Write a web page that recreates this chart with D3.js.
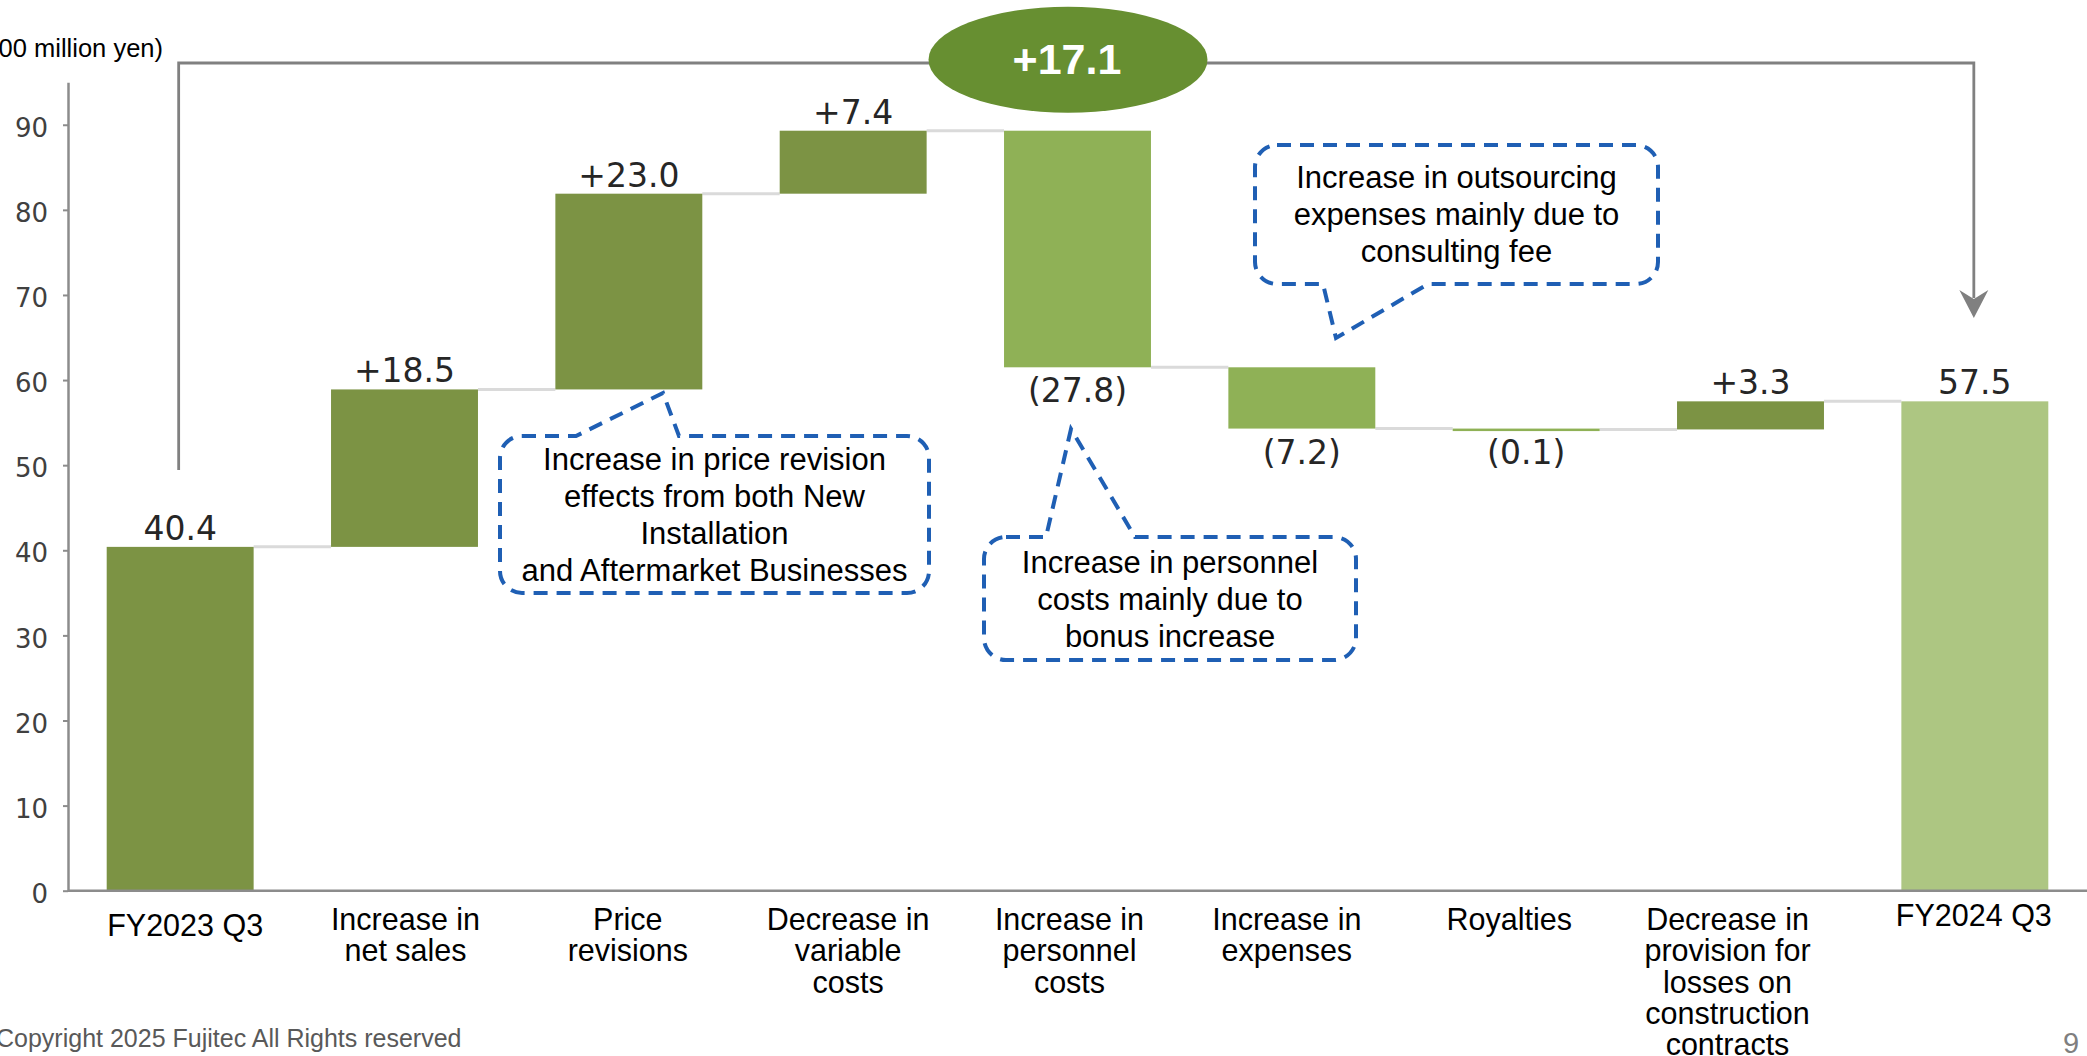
<!DOCTYPE html>
<html>
<head>
<meta charset="utf-8">
<script src="https://cdn.jsdelivr.net/npm/d3@7/dist/d3.min.js"></script>
<style>
  html, body { margin: 0; padding: 0; background: #ffffff; overflow: hidden; }
  svg { display: block; }
</style>
</head>
<body>
<div id="chart"></div>
<script>
// ---------------- DATA ----------------
const categories = [
  "FY2023 Q3",
  "Increase in\nnet sales",
  "Price\nrevisions",
  "Decrease in\nvariable\ncosts",
  "Increase in\npersonnel\ncosts",
  "Increase in\nexpenses",
  "Royalties",
  "Decrease in\nprovision for\nlosses on\nconstruction\ncontracts",
  "FY2024 Q3"
];
const values = [40.4, 18.5, 23.0, 7.4, -27.8, -7.2, -0.1, 3.3, 57.5];
const kinds = ["start", "delta", "delta", "delta", "delta", "delta", "delta", "delta", "end"];
const valueLabels = ["40.4", "+18.5", "+23.0", "+7.4", "(27.8)", "(7.2)", "(0.1)", "+3.3", "57.5"];
const yTickValues = [0, 10, 20, 30, 40, 50, 60, 70, 80, 90];
const totalChangeLabel = "+17.1";
const unitLabel = "(100 million yen)";
const copyrightText = "Copyright 2025 Fujitec All Rights reserved";
const pageNumber = "9";
const calloutTexts = [
  ["Increase in price revision", "effects from both New", "Installation", "and Aftermarket Businesses"],
  ["Increase in personnel", "costs mainly due to", "bonus increase"],
  ["Increase in outsourcing", "expenses mainly due to", "consulting fee"]
];

// ---------------- LAYOUT ----------------
const W = 2087, H = 1056;
const svg = d3.select("#chart").append("svg").attr("width", W).attr("height", H);

const y = d3.scaleLinear().domain([0, 95]).range([890.7, 82.2]);
const x = d3.scaleBand().domain(categories).range([68, 2087])
  .paddingInner(0.345).paddingOuter(0.1725);
const bw = x.bandwidth();

// per-category label nudges (layout only): [dx, dy]
const labelNudge = [[5, 6], [1, 0], [-1, 0], [-5, 0], [-8, 0], [-15, 0], [-17, 0], [-23, 0], [-1, -4]];

// running totals
let run = 0;
const bars = values.map((v, i) => {
  let lo, hi, endVal;
  if (kinds[i] === "delta") {
    const s = run; run = run + v; endVal = run;
    lo = Math.min(s, run); hi = Math.max(s, run);
  } else {
    lo = 0; hi = v; run = v; endVal = v;
  }
  return { cat: categories[i], v, kind: kinds[i], lo, hi, endVal, label: valueLabels[i], i };
});

function barColor(d) {
  if (d.kind === "end") return "#adc682";
  if (d.kind === "delta" && d.v < 0) return "#8fb156";
  return "#7c9344";
}

// connectors
const conn = svg.append("g");
for (let i = 0; i < bars.length - 1; i++) {
  const yy = y(bars[i].endVal);
  conn.append("line")
    .attr("x1", x(bars[i].cat) + bw).attr("x2", x(bars[i + 1].cat))
    .attr("y1", yy).attr("y2", yy)
    .attr("stroke", "#dadada").attr("stroke-width", 3);
}

// bars
svg.append("g").selectAll("rect").data(bars).join("rect")
  .attr("x", d => x(d.cat))
  .attr("width", bw)
  .attr("y", d => y(d.hi))
  .attr("height", d => Math.max(2.5, y(d.lo) - y(d.hi)))
  .attr("fill", barColor);

// y axis
const yAxis = svg.append("g").attr("transform", "translate(68,0)")
  .call(d3.axisLeft(y).tickValues(yTickValues).tickSize(5).tickPadding(15).tickSizeOuter(0));
yAxis.select(".domain").attr("stroke", "#8c8c8c").attr("stroke-width", 2.5);
yAxis.selectAll(".tick line").attr("stroke", "#8c8c8c").attr("stroke-width", 2);
yAxis.selectAll(".tick text")
  .attr("font-family", "'DejaVu Sans', Verdana, sans-serif")
  .attr("font-size", 26).attr("fill", "#404040").attr("dy", "0.45em");

// x axis line
svg.append("line").attr("x1", 68).attr("x2", W).attr("y1", y(0)).attr("y2", y(0))
  .attr("stroke", "#8c8c8c").attr("stroke-width", 2.5);

// value labels
svg.append("g").selectAll("text").data(bars).join("text")
  .attr("x", d => x(d.cat) + bw / 2)
  .attr("y", d => (d.kind === "delta" && d.v < 0) ? y(d.lo) + 35 : y(d.hi) - 7)
  .attr("text-anchor", "middle")
  .attr("font-family", "'DejaVu Sans', Verdana, sans-serif")
  .attr("font-size", 33).attr("fill", "#262626")
  .text(d => d.label);

// category labels
const catG = svg.append("g");
categories.forEach((c, i) => {
  const cx = x(c) + bw / 2 + labelNudge[i][0];
  const t = catG.append("text")
    .attr("x", cx).attr("y", 930 + labelNudge[i][1])
    .attr("text-anchor", "middle")
    .attr("font-family", "'Liberation Sans', Arial, sans-serif")
    .attr("font-size", 30.5).attr("fill", "#000");
  c.split("\n").forEach((ln, k) => {
    t.append("tspan").attr("x", cx).attr("dy", k === 0 ? 0 : 31.3).text(ln);
  });
});

// bracket + arrow
const cx0 = x(categories[0]) + bw / 2 - 1.5;
const cx1 = x(categories[categories.length - 1]) + bw / 2 - 1;
const yTop = 63, yLeftEnd = 470, yArrowTip = 318;
svg.append("path")
  .attr("d", `M${cx0},${yLeftEnd} L${cx0},${yTop} L${cx1},${yTop} L${cx1},${yArrowTip - 20}`)
  .attr("fill", "none").attr("stroke", "#808080").attr("stroke-width", 2.8);
svg.append("path")
  .attr("d", `M${cx1},${yArrowTip} L${cx1 - 14.5},${yArrowTip - 28} L${cx1},${yArrowTip - 19} L${cx1 + 14.5},${yArrowTip - 28} Z`)
  .attr("fill", "#808080");

// ellipse
svg.append("ellipse").attr("cx", 1068).attr("cy", 59.7).attr("rx", 139.5).attr("ry", 53)
  .attr("fill", "#678f31");
svg.append("text").attr("x", 1067).attr("y", 74)
  .attr("text-anchor", "middle")
  .attr("font-family", "'Liberation Sans', Arial, sans-serif")
  .attr("font-weight", "bold").attr("font-size", 43).attr("fill", "#ffffff")
  .text(totalChangeLabel);

// callouts
function calloutPath(b, t) {
  const { x0, y0, x1, y1, r } = b;
  const p = d3.path();
  p.moveTo(x0 + r, y0);
  if (t.side === "top") { p.lineTo(t.a, y0); p.lineTo(t.px, t.py); p.lineTo(t.b, y0); }
  p.lineTo(x1 - r, y0);
  p.arcTo(x1, y0, x1, y0 + r, r);
  p.lineTo(x1, y1 - r);
  p.arcTo(x1, y1, x1 - r, y1, r);
  if (t.side === "bottom") { p.lineTo(t.b, y1); p.lineTo(t.px, t.py); p.lineTo(t.a, y1); }
  p.lineTo(x0 + r, y1);
  p.arcTo(x0, y1, x0, y1 - r, r);
  p.lineTo(x0, y0 + r);
  p.arcTo(x0, y0, x0 + r, y0, r);
  p.closePath();
  return p.toString();
}
const callouts = [
  { box: { x0: 500, y0: 436, x1: 929, y1: 593, r: 22 }, tail: { side: "top", a: 576, b: 679, px: 663, py: 393 }, y0: 470 },
  { box: { x0: 984, y0: 537, x1: 1356, y1: 660, r: 22 }, tail: { side: "top", a: 1046, b: 1135, px: 1071, py: 429 }, y0: 573 },
  { box: { x0: 1255, y0: 145, x1: 1658, y1: 284, r: 22 }, tail: { side: "bottom", a: 1323, b: 1428, px: 1336, py: 338 }, y0: 188 }
];
callouts.forEach((c, i) => {
  svg.append("path").attr("d", calloutPath(c.box, c.tail))
    .attr("fill", "none").attr("stroke", "#1f5fb4").attr("stroke-width", 4)
    .attr("stroke-dasharray", "14 9");
  const cxm = (c.box.x0 + c.box.x1) / 2;
  const t = svg.append("text").attr("x", cxm).attr("y", c.y0)
    .attr("text-anchor", "middle")
    .attr("font-family", "'Liberation Sans', Arial, sans-serif")
    .attr("font-size", 31).attr("fill", "#000");
  calloutTexts[i].forEach((ln, k) => {
    t.append("tspan").attr("x", cxm).attr("dy", k === 0 ? 0 : 37).text(ln);
  });
});

// unit label, footer
svg.append("text").attr("x", 163).attr("y", 57).attr("text-anchor", "end")
  .attr("font-family", "'Liberation Sans', Arial, sans-serif")
  .attr("font-size", 25.5).attr("fill", "#000").text(unitLabel);
svg.append("text").attr("x", -4).attr("y", 1047)
  .attr("font-family", "'Liberation Sans', Arial, sans-serif")
  .attr("font-size", 25).attr("fill", "#595959").text(copyrightText);
svg.append("text").attr("x", 2063).attr("y", 1053)
  .attr("font-family", "'Liberation Sans', Arial, sans-serif")
  .attr("font-size", 29).attr("fill", "#7f7f7f").text(pageNumber);
</script>
</body>
</html>
